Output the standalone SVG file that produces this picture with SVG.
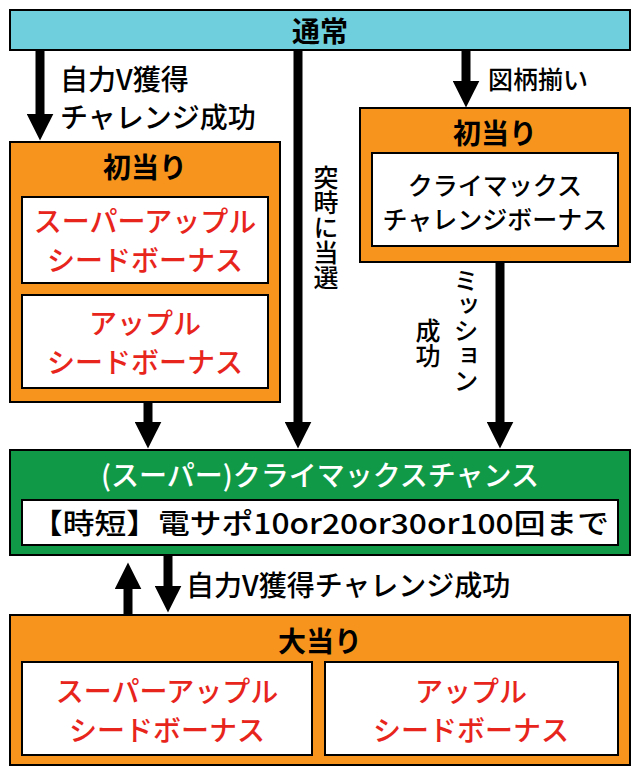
<svg xmlns="http://www.w3.org/2000/svg" width="640" height="774" viewBox="0 0 640 774">
<style>
text{font-family:"Noto Sans CJK JP","Noto Sans",sans-serif;font-size:28px;font-weight:500;text-anchor:middle;dominant-baseline:central}
.b{font-weight:700}
.o{fill:#f7941d;stroke:#000;stroke-width:2}
.w{fill:#fff;stroke:#000;stroke-width:2}
.r{fill:#e8251c}
.l{stroke:#000;stroke-width:9;fill:none}
.v{writing-mode:tb}
</style>
<defs><marker id="a" markerWidth="3" markerHeight="3" refX="1.6" refY="1.5" orient="auto" markerUnits="strokeWidth" viewBox="0 0 3 3"><path d="M0,0L3,1.5L0,3z"/></marker></defs>
<g id="top"><rect x="10" y="10" width="620" height="40" fill="#6fcfdc" stroke="#000" stroke-width="2"/><text class="b" x="320" y="30">通常</text></g>
<g id="left"><rect class="o" x="10" y="142" width="270" height="260"/><text class="b" x="145" y="166">初当り</text>
<rect class="w" x="22" y="197" width="246" height="86"/><text class="r" x="145" y="220">スーパーアップル</text><text class="r" x="145" y="259">シードボーナス</text>
<rect class="w" x="22" y="295" width="246" height="93"/><text class="r" x="145" y="322">アップル</text><text class="r" x="145" y="361">シードボーナス</text></g>
<g id="right"><rect class="o" x="360" y="108" width="270" height="154"/><text class="b" x="495" y="132">初当り</text>
<rect class="w" x="372" y="153" width="246" height="93"/><text x="495" y="184" style="font-size:25px">クライマックス</text><text x="495" y="218" style="font-size:25px">チャレンジボーナス</text></g>
<g id="chance"><rect x="10" y="450" width="620" height="105" fill="#109a48" stroke="#000" stroke-width="2"/><text x="320" y="474" fill="#fff">(スーパー)クライマックスチャンス</text>
<rect class="w" x="22" y="500" width="596" height="45"/><text x="320" y="522" textLength="578" lengthAdjust="spacingAndGlyphs">【時短】電サポ10or20or30or100回まで</text></g>
<g id="big"><rect class="o" x="10" y="615" width="620" height="150"/><text class="b" x="320" y="640">大当り</text>
<rect class="w" x="22" y="662" width="290" height="93"/><text class="r" x="167" y="690">スーパーアップル</text><text class="r" x="167" y="729">シードボーナス</text>
<rect class="w" x="325" y="662" width="293" height="93"/><text class="r" x="471" y="690">アップル</text><text class="r" x="471" y="729">シードボーナス</text></g>
<g id="connectors">
<path class="l" d="M40,50V128" marker-end="url(#a)"/>
<path class="l" d="M298,50V436" marker-end="url(#a)"/>
<path class="l" d="M466,50V95" marker-end="url(#a)"/>
<path class="l" d="M148,402V436" marker-end="url(#a)"/>
<path class="l" d="M500,262V436" marker-end="url(#a)"/>
<path class="l" d="M128,615V575" marker-end="url(#a)"/>
<path class="l" d="M168,555V600" marker-end="url(#a)"/>
</g>
<g id="labels">
<text x="60" y="78" style="text-anchor:start">自力V獲得</text>
<text x="60" y="116" style="text-anchor:start">チャレンジ成功</text>
<text x="488" y="78" style="text-anchor:start;font-size:25px">図柄揃い</text>
<text class="v" x="326" y="165" style="text-anchor:start;font-size:25px">突時に当選</text>
<text class="v" x="466" y="268" style="text-anchor:start;font-size:25px">ミッション</text>
<text class="v" x="428" y="318" style="text-anchor:start;font-size:25px">成功</text>
<text x="186" y="584" style="text-anchor:start">自力V獲得チャレンジ成功</text>
</g>
</svg>
